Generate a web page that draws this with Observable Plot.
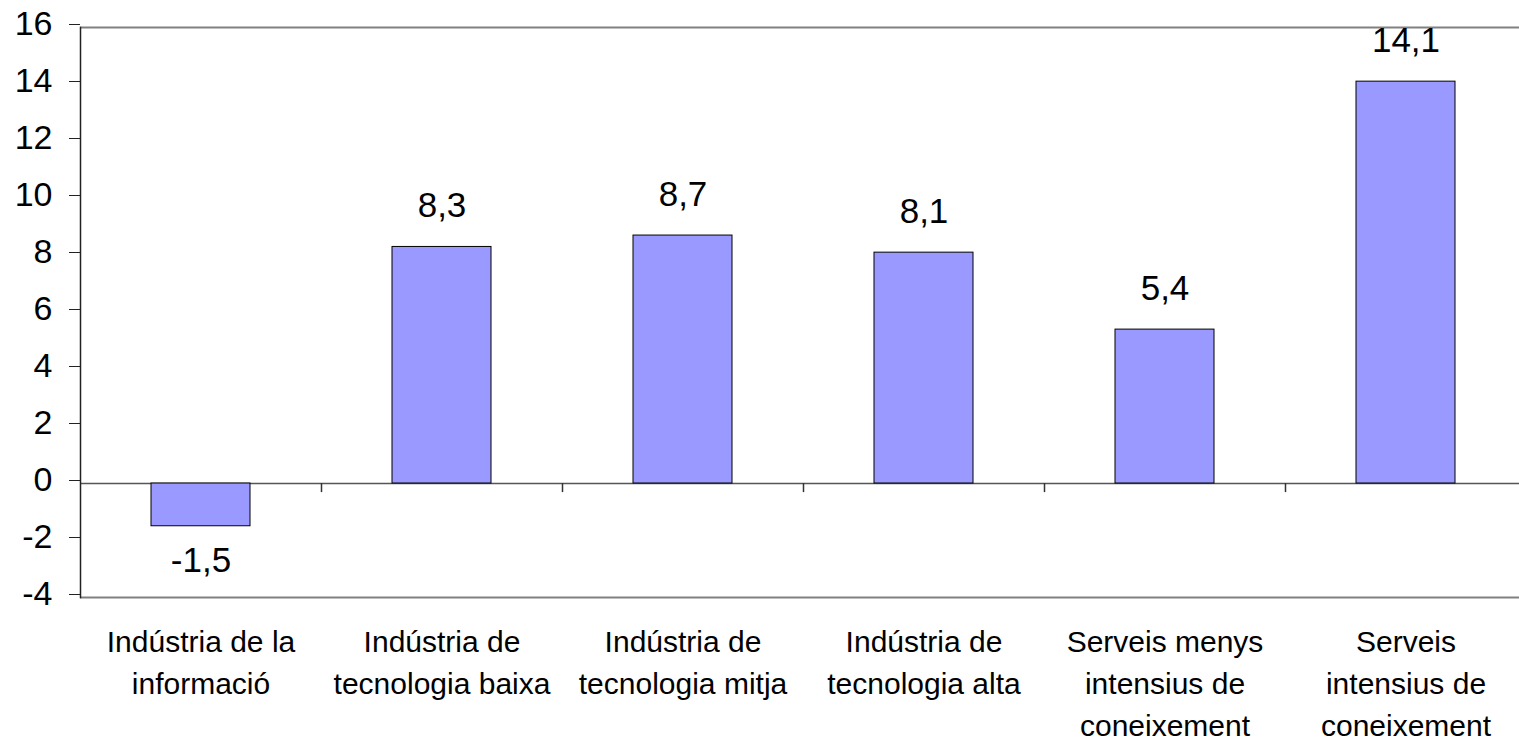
<!DOCTYPE html>
<html>
<head>
<meta charset="utf-8">
<script src="https://cdn.jsdelivr.net/npm/d3@7"></script>
<script src="https://cdn.jsdelivr.net/npm/@observablehq/plot@0.6"></script>
<style>
  html, body { margin: 0; padding: 0; background: #fff; overflow: hidden; }
  svg { display: block; }
</style>
</head>
<body>
<div id="chart"></div>
<script>
const categories = [
  "Indústria de la\ninformació",
  "Indústria de\ntecnologia baixa",
  "Indústria de\ntecnologia mitja",
  "Indústria de\ntecnologia alta",
  "Serveis menys\nintensius de\nconeixement",
  "Serveis\nintensius de\nconeixement"
];
const values = [-1.5, 8.3, 8.7, 8.1, 5.4, 14.1];
const yTicks = [-4, -2, 0, 2, 4, 6, 8, 10, 12, 14, 16];

const data = categories.map((c, i) => ({category: c, value: values[i]}));
const fmt = v => v.toFixed(1).replace(".", ",");

const W = 1519, H = 744;
const xLeft = 80, xRight = 1526;
const step = (xRight - xLeft) / categories.length;

const chart = Plot.plot({
  width: W,
  height: H,
  marginTop: 27,
  marginBottom: 147,
  marginLeft: 80,
  marginRight: 0,
  style: {fontFamily: "'Liberation Sans', Arial, sans-serif", color: "#000", background: "#fff", overflow: "visible"},
  x: {domain: categories, range: [xLeft, xRight], paddingInner: 0.59, paddingOuter: 0.295, align: 0.5, label: null},
  y: {domain: [-4, 16], ticks: yTicks, label: null},
  marks: [
    Plot.ruleY([16, -4], {stroke: "#808080", strokeWidth: 2}),
    Plot.ruleY([0], {stroke: "#555", strokeWidth: 1.5}),
    Plot.ruleX(categories.slice(1), {x: d => d, dx: -step / 2, y1: 0, y2: -0.32, stroke: "#333", strokeWidth: 1.5}),
    Plot.barY(data, {x: "category", y: "value", fill: "#9999FF", stroke: "#000", strokeWidth: 1}),
    Plot.text(data.filter(d => d.value >= 0), {x: "category", y: "value", text: d => fmt(d.value), lineAnchor: "bottom", dy: -30, fontSize: 35, fill: "#000"}),
    Plot.text(data.filter(d => d.value < 0), {x: "category", y: "value", text: d => fmt(d.value), lineAnchor: "top", dy: 21, fontSize: 35, fill: "#000"}),
    Plot.frame({anchor: "left", stroke: "#222", strokeWidth: 1.5}),
    Plot.axisY({ticks: yTicks, tickSize: 11, tickPadding: 17, fontSize: 34, tickFormat: d => String(d), stroke: "#222", dy: -3, label: null}),
    Plot.axisX({tickSize: 0, tickPadding: 25, fontSize: 30, lineHeight: 1.4, tickFormat: d => d, label: null})
  ]
});
document.getElementById("chart").appendChild(chart);
</script>
</body>
</html>
